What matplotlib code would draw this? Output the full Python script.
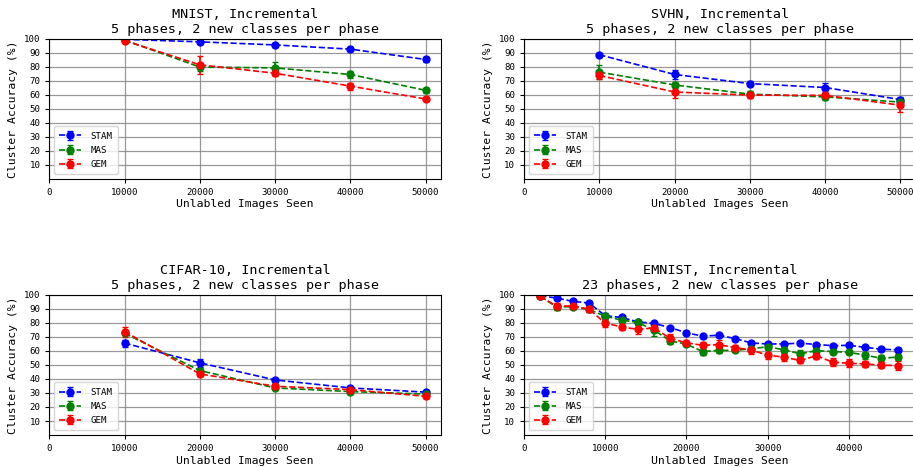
import numpy as np
from matplotlib import pyplot as plt

plt.rcParams['font.family'] = ['DejaVu Sans Mono', 'DejaVu Sans']

methods = ['STAM', 'MAS', 'GEM']
colors = ['blue', 'green', 'red']

x5 = [10000, 20000, 30000, 40000, 50000]
x23 = [2000, 4000, 6000, 8000, 10000, 12000, 14000, 16000, 18000, 20000, 22000, 24000,
       26000, 28000, 30000, 32000, 34000, 36000, 38000, 40000, 42000, 44000, 46000]

# MNIST
mnist_mean = {
    'STAM': [99.6, 97.8, 95.6, 92.6, 85.2],
    'MAS': [99.0, 79.8, 79.2, 74.5, 63.2],
    'GEM': [98.7, 81.4, 75.4, 66.2, 57.0],
}
mnist_err = {
    'STAM': [0.5, 1.0, 1.2, 1.0, 1.5],
    'MAS': [1.0, 2.5, 4.0, 2.5, 2.0],
    'GEM': [1.0, 6.5, 2.0, 2.5, 1.5],
}

# SVHN
svhn_mean = {
    'STAM': [88.6, 74.5, 68.0, 65.2, 56.6],
    'MAS': [76.2, 67.0, 60.5, 58.5, 54.8],
    'GEM': [73.8, 62.0, 59.8, 59.6, 52.6],
}
svhn_err = {
    'STAM': [1.5, 3.0, 1.5, 3.0, 1.5],
    'MAS': [5.0, 2.0, 2.0, 2.0, 1.5],
    'GEM': [2.5, 4.0, 2.0, 1.5, 5.0],
}

# CIFAR-10
cifar_mean = {
    'STAM': [65.6, 51.5, 39.3, 33.6, 30.6],
    'MAS': [72.6, 46.0, 33.6, 31.0, 29.2],
    'GEM': [73.8, 43.6, 34.8, 32.4, 27.6],
}
cifar_err = {
    'STAM': [2.5, 3.0, 1.5, 1.5, 1.0],
    'MAS': [1.5, 1.5, 1.0, 1.0, 1.0],
    'GEM': [3.5, 1.5, 1.5, 1.0, 1.0],
}

# EMNIST
emnist_mean = {
    'STAM': [99.3, 97.8, 95.4, 94.2, 85.1, 83.9, 80.8, 79.6, 76.7, 72.9, 70.6, 71.2,
             68.8, 65.7, 65.0, 65.0, 65.6, 64.6, 63.8, 64.0, 62.6, 61.2, 60.8],
    'MAS': [99.0, 91.4, 91.6, 89.6, 84.8, 82.0, 80.4, 74.8, 67.2, 64.8, 59.6, 60.4,
            60.4, 61.6, 63.0, 60.8, 58.0, 60.2, 59.6, 59.0, 57.0, 54.8, 55.6],
    'GEM': [99.0, 91.9, 92.2, 89.8, 79.8, 77.2, 75.4, 76.4, 69.0, 65.8, 64.0, 64.5,
            62.4, 60.6, 57.0, 55.6, 53.2, 56.6, 52.0, 51.2, 50.8, 49.8, 49.6],
}
emnist_err = {
    'STAM': [0.5, 1.5, 1.0, 1.5, 1.0, 1.0, 1.0, 1.0, 1.0, 1.0, 1.0, 1.5,
             1.0, 1.0, 1.0, 1.0, 1.0, 1.0, 1.0, 1.0, 1.0, 1.0, 1.0],
    'MAS': [1.0, 2.0, 1.5, 1.5, 2.5, 2.0, 2.0, 4.0, 2.0, 1.5, 2.5, 2.0,
            1.5, 1.5, 2.0, 2.0, 2.5, 2.0, 2.0, 1.5, 2.5, 2.0, 2.0],
    'GEM': [1.0, 2.5, 2.0, 2.0, 3.0, 2.5, 3.0, 2.5, 3.0, 2.0, 2.5, 3.0,
            2.0, 2.5, 2.5, 2.5, 2.0, 2.5, 3.0, 3.0, 2.0, 2.0, 3.0],
}

panels = [
    ('MNIST, Incremental\n5 phases, 2 new classes per phase', x5, mnist_mean, mnist_err),
    ('SVHN, Incremental\n5 phases, 2 new classes per phase', x5, svhn_mean, svhn_err),
    ('CIFAR-10, Incremental\n5 phases, 2 new classes per phase', x5, cifar_mean, cifar_err),
    ('EMNIST, Incremental\n23 phases, 2 new classes per phase', x23, emnist_mean, emnist_err),
]

positions = [
    [0.054, 0.617, 0.4287, 0.300],
    [0.574, 0.617, 0.4287, 0.300],
    [0.054, 0.0685, 0.4287, 0.300],
    [0.574, 0.0685, 0.4287, 0.300],
]


def main():
    fig = plt.figure(figsize=(9.13, 4.67), dpi=100)
    for (title, xs, means, errs), pos in zip(panels, positions):
        ax = fig.add_axes(pos)
        for m, c in zip(methods, colors):
            ax.errorbar(xs, means[m], yerr=errs[m], fmt='o--', color=c,
                        markersize=5, linewidth=1.2, capsize=2, elinewidth=1.2,
                        label=m)
        ax.set_xlim(left=0)
        ax.set_ylim(0, 100)
        ax.set_yticks(np.arange(10, 101, 10))
        ax.grid(which='both', color='grey', linewidth=0.9, alpha=0.8)
        ax.set_axisbelow(True)
        ax.tick_params(labelsize=6.6, length=2.8)
        ax.set_title(title, fontsize=9.7, pad=4.5, linespacing=1.15)
        ax.set_xlabel('Unlabled Images Seen', fontsize=8.2, labelpad=2)
        ax.set_ylabel('Cluster Accuracy (%)', fontsize=8.2, labelpad=4)
        ax.legend(loc='lower left', fontsize=6.6, handlelength=2.4,
                  handletextpad=1.0, borderpad=0.6, labelspacing=0.55)
    fig.savefig('out.png', dpi=100)


if __name__ == '__main__':
    main()
